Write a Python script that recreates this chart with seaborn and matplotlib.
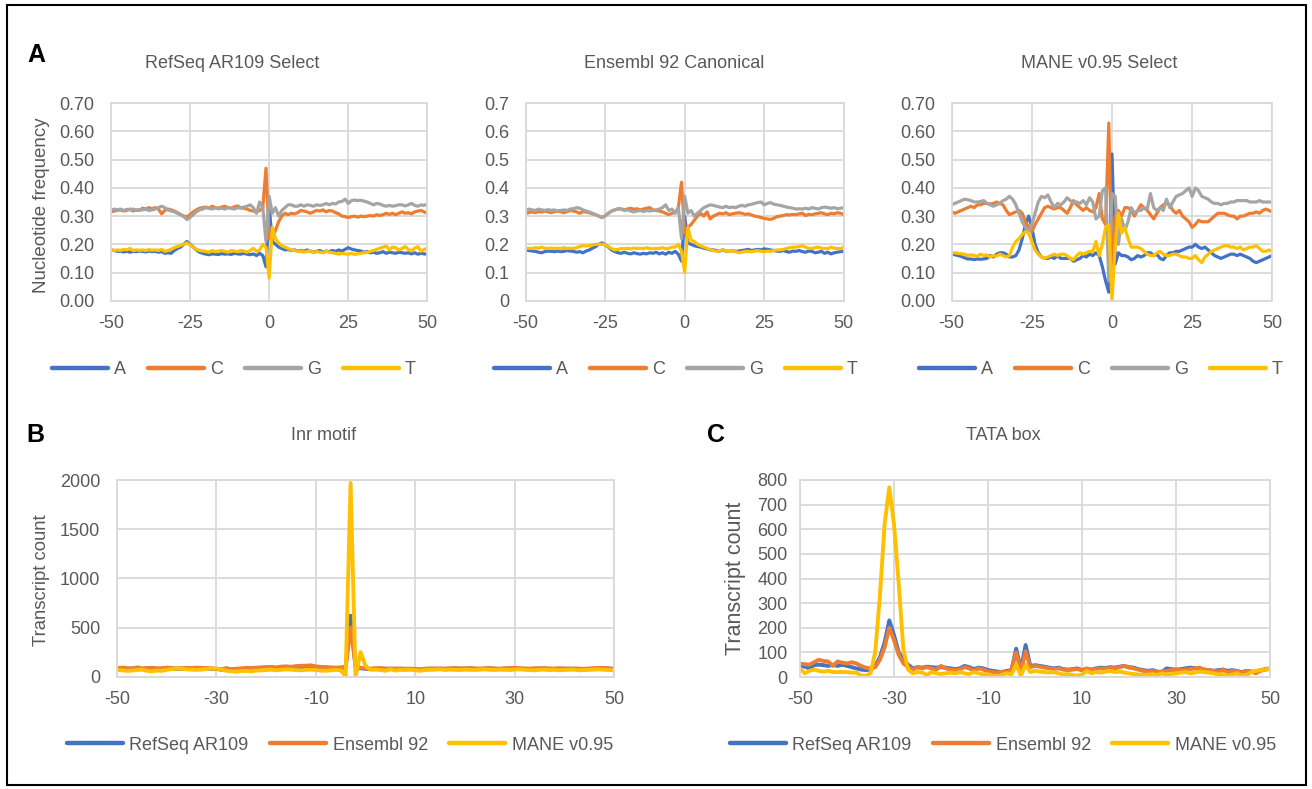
import numpy as np
import pandas as pd
import matplotlib
matplotlib.use("Agg")
import matplotlib.pyplot as plt
import seaborn as sns
from matplotlib.lines import Line2D
from matplotlib.patches import Rectangle

# ---------------- data ----------------
positions = list(range(-50, 51))
bases = ["A", "C", "G", "T"]
sources = ["RefSeq AR109", "Ensembl 92", "MANE v0.95"]
panel_titles = ["RefSeq AR109 Select", "Ensembl 92 Canonical", "MANE v0.95 Select"]

# RefSeq AR109 Select nucleotide frequency, positions -50..50
refseq_A = [.18, .178, .175, .175, .173, .175, .172, .175, .174, .176,
            .175, .173, .176, .174, .175, .172, .174, .168, .17, .168,
            .178, .185, .19, .2, .21, .2, .19, .18, .172, .168,
            .165, .163, .166, .165, .164, .167, .165, .166, .164, .168,
            .166, .165, .168, .165, .163, .166, .16, .168, .16, .12,
            .33, .21, .2, .19, .185, .18, .182, .178, .18, .176,
            .178, .175, .18, .176, .172, .175, .178, .172, .176, .174,
            .178, .175, .18, .176, .182, .188, .183, .18, .178, .176,
            .172, .175, .17, .172, .168, .17, .174, .168, .172, .17,
            .168, .172, .17, .168, .17, .166, .17, .165, .168, .166,
            .165]
refseq_C = [.315, .318, .32, .322, .318, .32, .325, .318, .322, .32,
            .328, .325, .33, .326, .33, .325, .308, .32, .325, .322,
            .318, .312, .305, .30, .298, .305, .315, .322, .328, .33,
            .332, .328, .335, .33, .328, .332, .335, .33, .328, .333,
            .336, .33, .328, .325, .32, .318, .315, .32, .33, .47,
            .22, .22, .25, .28, .30, .31, .305, .31, .308, .312,
            .32, .318, .315, .31, .315, .32, .318, .322, .315, .32,
            .318, .312, .308, .30, .298, .295, .298, .30, .296, .30,
            .298, .30, .302, .30, .305, .302, .305, .31, .306, .31,
            .305, .31, .315, .31, .312, .308, .315, .318, .32, .315,
            .31]
refseq_G = [.32, .325, .322, .325, .32, .324, .322, .325, .32, .323,
            .322, .325, .32, .322, .325, .33, .335, .33, .322, .318,
            .315, .31, .305, .298, .288, .295, .305, .315, .322, .325,
            .33, .328, .325, .33, .326, .328, .325, .33, .328, .325,
            .33, .328, .332, .335, .34, .33, .31, .35, .33, .21,
            .37, .31, .33, .30, .32, .33, .34, .34, .335, .335,
            .34, .335, .34, .338, .335, .34, .338, .34, .345, .34,
            .345, .343, .35, .352, .36, .345, .355, .357, .355, .356,
            .353, .35, .345, .34, .345, .343, .338, .335, .338, .335,
            .337, .34, .34, .336, .34, .345, .338, .335, .34, .338,
            .342]
refseq_T = [.18, .178, .18, .178, .182, .18, .185, .178, .18, .179,
            .18, .178, .181, .179, .18, .178, .182, .175, .178, .182,
            .188, .192, .196, .2, .205, .198, .19, .182, .178, .176,
            .175, .172, .178, .174, .176, .178, .175, .172, .178, .176,
            .174, .178, .176, .172, .178, .186, .175, .18, .2, .19,
            .08, .26, .22, .205, .195, .19, .185, .18, .178, .175,
            .176, .172, .175, .178, .17, .174, .172, .17, .175, .172,
            .17, .168, .165, .168, .166, .165, .168, .164, .166, .168,
            .17, .172, .175, .178, .182, .186, .19, .194, .18, .19,
            .188, .18, .185, .192, .182, .176, .186, .192, .175, .182,
            .185]

# Ensembl 92 Canonical
ensembl_A = [.18, .178, .176, .175, .172, .17, .174, .176, .175, .174,
             .176, .174, .175, .178, .176, .175, .172, .174, .17, .176,
             .18, .186, .192, .2, .205, .198, .19, .18, .174, .17,
             .168, .172, .168, .166, .17, .167, .165, .168, .166, .17,
             .168, .172, .166, .17, .165, .172, .168, .175, .165, .14,
             .30, .205, .2, .195, .192, .19, .186, .184, .18, .18,
             .178, .176, .18, .176, .175, .178, .175, .176, .178, .18,
             .182, .178, .18, .182, .18, .184, .182, .18, .178, .176,
             .175, .178, .174, .172, .176, .175, .178, .174, .172, .176,
             .175, .17, .172, .175, .168, .172, .166, .17, .172, .174,
             .175]
ensembl_C = [.31, .312, .315, .312, .316, .314, .318, .315, .312, .316,
             .318, .315, .312, .316, .32, .318, .315, .31, .316, .314,
             .312, .308, .305, .30, .295, .302, .31, .318, .322, .325,
             .326, .322, .325, .328, .324, .326, .322, .325, .328, .33,
             .322, .32, .318, .315, .31, .305, .31, .312, .33, .42,
             .24, .26, .27, .285, .30, .31, .30, .315, .29, .30,
             .305, .31, .308, .312, .305, .308, .31, .312, .31, .306,
             .308, .304, .30, .298, .295, .292, .29, .288, .292, .298,
             .30, .302, .305, .304, .306, .305, .308, .31, .302, .306,
             .305, .308, .31, .312, .308, .305, .31, .308, .312, .31,
             .305]
ensembl_G = [.32, .325, .322, .32, .325, .322, .32, .323, .32, .322,
             .318, .32, .322, .32, .325, .326, .33, .328, .322, .318,
             .315, .31, .305, .30, .295, .30, .31, .318, .322, .326,
             .325, .32, .322, .318, .315, .318, .32, .316, .32, .318,
             .32, .322, .325, .33, .34, .32, .325, .31, .33, .22,
             .37, .31, .32, .30, .31, .32, .33, .335, .34, .338,
             .335, .332, .33, .335, .33, .332, .33, .335, .338, .335,
             .34, .342, .345, .348, .35, .34, .345, .348, .342, .34,
             .338, .335, .332, .33, .328, .325, .326, .325, .328, .325,
             .33, .328, .325, .33, .332, .33, .328, .33, .326, .328,
             .33]
ensembl_T = [.185, .186, .185, .188, .186, .19, .186, .185, .187, .185,
             .186, .184, .188, .185, .186, .185, .188, .192, .195, .194,
             .195, .198, .2, .2, .2, .198, .192, .185, .18, .182,
             .185, .184, .186, .183, .187, .185, .186, .184, .188, .185,
             .184, .186, .185, .188, .184, .186, .19, .19, .2, .175,
             .10, .26, .215, .21, .20, .195, .19, .186, .18, .178,
             .175, .178, .18, .176, .175, .178, .174, .17, .172, .175,
             .175, .174, .176, .178, .175, .174, .176, .175, .178, .18,
             .18, .182, .185, .188, .19, .19, .192, .195, .19, .186,
             .185, .188, .19, .186, .185, .184, .19, .186, .185, .184,
             .19]

# MANE v0.95 Select
mane_A = [.165, .163, .16, .157, .152, .148, .148, .146, .148, .147,
          .148, .15, .16, .155, .165, .17, .17, .165, .155, .155,
          .16, .18, .22, .27, .30, .26, .20, .17, .155, .15,
          .15, .155, .15, .16, .15, .15, .15, .15, .14, .145,
          .15, .16, .155, .165, .16, .17, .16, .12, .07, .03,
          .52, .13, .17, .16, .16, .155, .145, .15, .16, .155,
          .16, .17, .17, .16, .165, .15, .145, .16, .17, .17,
          .175, .175, .18, .185, .19, .19, .20, .19, .185, .19,
          .18, .17, .16, .155, .15, .155, .16, .165, .165, .16,
          .165, .16, .155, .15, .14, .135, .14, .145, .15, .155,
          .16]
mane_C = [.315, .31, .315, .32, .325, .33, .335, .33, .34, .34,
          .345, .345, .343, .345, .35, .345, .34, .32, .305, .31,
          .315, .32, .31, .28, .26, .245, .27, .29, .31, .33,
          .335, .33, .325, .33, .33, .32, .31, .33, .355, .34,
          .33, .32, .33, .32, .315, .33, .38, .29, .27, .63,
          .10, .30, .32, .30, .33, .33, .32, .30, .32, .34,
          .33, .32, .305, .29, .31, .33, .34, .345, .34, .32,
          .31, .32, .30, .29, .28, .26, .27, .285, .28, .28,
          .28, .29, .30, .31, .31, .31, .305, .30, .30, .29,
          .30, .30, .305, .31, .31, .315, .31, .32, .325, .32,
          .315]
mane_G = [.34, .345, .35, .355, .36, .358, .355, .35, .35, .352,
          .355, .345, .34, .335, .34, .345, .355, .36, .37, .36,
          .34, .31, .28, .26, .24, .27, .31, .35, .37, .365,
          .375, .35, .33, .345, .34, .35, .365, .355, .345, .35,
          .345, .355, .34, .365, .35, .29, .30, .39, .40, .07,
          .38, .37, .20, .29, .25, .28, .33, .31, .32, .32,
          .33, .325, .38, .33, .32, .33, .32, .36, .33, .35,
          .37, .375, .38, .39, .40, .37, .40, .39, .37, .365,
          .36, .35, .345, .345, .34, .345, .345, .35, .35, .355,
          .355, .355, .355, .35, .35, .35, .355, .35, .35, .35,
          .35]
mane_T = [.17, .17, .168, .166, .165, .16, .163, .16, .158, .165,
          .16, .162, .155, .16, .158, .165, .16, .155, .16, .19,
          .21, .22, .235, .245, .24, .21, .18, .165, .155, .15,
          .155, .16, .165, .16, .165, .165, .16, .15, .145, .16,
          .17, .165, .17, .175, .175, .21, .16, .20, .26, .27,
          .0, .20, .31, .24, .26, .22, .19, .19, .19, .185,
          .175, .165, .16, .16, .17, .175, .165, .16, .16, .165,
          .165, .16, .155, .155, .15, .15, .16, .145, .135, .155,
          .165, .175, .18, .185, .19, .195, .195, .19, .19, .185,
          .19, .18, .185, .19, .19, .195, .185, .175, .175, .18,
          .175]

# Inr motif transcript counts
inr_refseq = [80, 82, 78, 85, 80, 78, 82, 84, 80, 83,
              90, 85, 82, 80, 84, 82, 86, 88, 85, 80,
              78, 72, 70, 75, 80, 78, 82, 80, 85, 88,
              86, 84, 82, 88, 90, 85, 88, 92, 95, 90,
              88, 85, 82, 80, 85, 90, 100, 620, 90, 85,
              80, 78, 82, 80, 78, 82, 80, 76, 80, 78,
              75, 70, 78, 80, 82, 78, 80, 82, 85, 80,
              82, 84, 80, 78, 82, 85, 80, 78, 82, 80,
              85, 82, 80, 78, 80, 82, 78, 76, 80, 78,
              80, 82, 78, 75, 80, 78, 82, 80, 85, 82,
              78]
inr_ensembl = [85, 92, 88, 80, 95, 85, 88, 90, 86, 84,
               92, 88, 85, 86, 90, 88, 92, 90, 88, 85,
               80, 75, 88, 72, 80, 85, 90, 88, 92, 95,
               98, 100, 95, 102, 105, 100, 108, 110, 112, 115,
               105, 100, 98, 95, 92, 95, 85, 500, 110, 90,
               85, 82, 86, 88, 84, 80, 82, 84, 80, 82,
               80, 76, 82, 84, 80, 86, 82, 84, 88, 85,
               86, 88, 84, 82, 86, 88, 84, 82, 85, 88,
               90, 86, 84, 82, 85, 86, 88, 84, 82, 86,
               84, 80, 85, 82, 78, 84, 86, 90, 88, 85,
               82]
inr_mane = [70, 65, 60, 62, 68, 72, 60, 55, 62, 60,
            70, 78, 85, 80, 75, 72, 70, 72, 80, 85,
            82, 75, 60, 55, 52, 58, 60, 55, 62, 65,
            68, 72, 65, 70, 75, 72, 68, 65, 70, 72,
            68, 62, 60, 65, 70, 65, 5, 1970, 0, 250,
            110, 70, 72, 68, 60, 75, 62, 70, 68, 72,
            65, 60, 68, 70, 72, 75, 68, 72, 70, 68,
            72, 70, 68, 72, 75, 70, 68, 72, 70, 68,
            72, 75, 70, 68, 65, 70, 72, 68, 70, 65,
            68, 70, 72, 65, 68, 70, 72, 75, 70, 68,
            65]

# TATA box transcript counts
tata_refseq = [45, 42, 35, 48, 50, 48, 45, 50, 45, 50,
               45, 40, 35, 30, 28, 30, 45, 80, 140, 230,
               170, 100, 70, 50, 35, 40, 38, 42, 40, 38,
               40, 38, 35, 32, 35, 45, 40, 32, 38, 35,
               28, 25, 22, 20, 25, 28, 115, 30, 130, 45,
               48, 45, 42, 38, 35, 38, 32, 30, 32, 35,
               28, 32, 30, 35, 38, 36, 40, 38, 42, 45,
               40, 38, 32, 28, 25, 28, 22, 20, 35, 32,
               30, 32, 35, 38, 36, 32, 30, 28, 25, 28,
               30, 25, 28, 24, 20, 25, 22, 20, 28, 32,
               35]
tata_ensembl = [54, 52, 50, 60, 70, 65, 63, 45, 63, 58,
                55, 60, 55, 45, 38, 35, 40, 70, 120, 200,
                150, 90, 55, 40, 30, 40, 35, 40, 35, 30,
                45, 35, 30, 28, 30, 40, 35, 25, 35, 30,
                22, 20, 18, 22, 20, 30, 100, 20, 105, 40,
                45, 42, 38, 35, 32, 35, 30, 28, 30, 32,
                28, 35, 30, 32, 35, 33, 38, 35, 40, 45,
                38, 35, 30, 25, 22, 25, 20, 22, 25, 28,
                30, 28, 30, 32, 35, 38, 30, 28, 25, 22,
                30, 20, 25, 22, 18, 25, 22, 15, 25, 30,
                32]
tata_mane = [35, 15, 25, 30, 25, 22, 25, 20, 20, 20,
             20, 18, 18, 5, 5, 15, 100, 330, 620, 770,
             620, 380, 110, 30, 15, 20, 18, 8, 20, 15,
             12, 15, 18, 15, 20, 15, 12, 20, 15, 10,
             12, 5, 0, 10, 15, 10, 50, 5, 50, 20,
             25, 22, 20, 18, 20, 15, 10, 12, 8, 5,
             10, 25, 15, 20, 18, 22, 25, 20, 22, 18,
             15, 12, 10, 8, 10, 12, 8, 15, 10, 12,
             15, 18, 20, 15, 18, 22, 20, 18, 15, 10,
             12, 5, 10, 15, 5, 8, 20, 25, 28, 30,
             35]

base_colors = {"A": "#4472C4", "C": "#ED7D31", "G": "#A5A5A5", "T": "#FFC000"}
source_colors = {"RefSeq AR109": "#4472C4", "Ensembl 92": "#ED7D31", "MANE v0.95": "#FFC000"}

FIG_W, FIG_H = 1312, 789
TEXT = "#595959"
GRID = "#D9D9D9"
FS = 13


def box(x0, y0, x1, y1):
    # pixel box with top-left origin -> figure fraction rect
    return [x0 / FIG_W, 1 - y1 / FIG_H, (x1 - x0) / FIG_W, (y1 - y0) / FIG_H]


def fx(x):
    return x / FIG_W


def fy(y):
    return 1 - y / FIG_H


def long_frame(groups, names, key):
    rows = []
    for name, vals in zip(names, groups):
        for p, v in zip(positions, vals):
            rows.append({"pos": p, "value": v, key: name})
    return pd.DataFrame(rows)


def style_axis(ax, ylim, yticks, yfmt, xticks, ypad=12):
    ax.set_xlim(-50, 50)
    ax.set_ylim(*ylim)
    ax.set_xticks(xticks)
    ax.set_yticks(yticks)
    ax.set_yticklabels([yfmt(t) for t in yticks])
    ax.set_xticklabels([str(t) for t in xticks])
    ax.grid(True, color=GRID, linewidth=1.3)
    ax.set_axisbelow(True)
    for s in ax.spines.values():
        s.set_color(GRID)
        s.set_linewidth(1.3)
    ax.tick_params(axis="both", length=0, labelsize=FS, colors=TEXT)
    ax.tick_params(axis="y", pad=ypad)
    ax.tick_params(axis="x", pad=10)
    ax.set_xlabel("")
    ax.set_ylabel("")


def add_legend(fig, names, colors, cx, cy):
    handles = [Line2D([], [], color=colors[n], lw=3.2, solid_capstyle="round") for n in names]
    leg = fig.legend(handles, names, loc="center", bbox_to_anchor=(fx(cx), fy(cy)),
                     ncol=len(names), frameon=False, fontsize=FS, handlelength=3.1,
                     handletextpad=0.35, columnspacing=1.2, labelcolor=TEXT)
    return leg


sns.set_style("white")
plt.rcParams["font.family"] = ["Liberation Sans", "DejaVu Sans"]

fig = plt.figure(figsize=(FIG_W / 100, FIG_H / 100), dpi=100)

# ---- panel A ----
nuc_sets = [
    [refseq_A, refseq_C, refseq_G, refseq_T],
    [ensembl_A, ensembl_C, ensembl_G, ensembl_T],
    [mane_A, mane_C, mane_G, mane_T],
]
a_boxes = [(111, 103.3, 427.3, 300.7), (525.7, 103.3, 843.7, 300.7), (951.7, 103.3, 1272.3, 300.7)]
a_centers = [232, 674, 1099]
a_fmts = [lambda v: f"{v:.2f}", lambda v: f"{v:g}", lambda v: f"{v:.2f}"]
a_ticks = [0, 0.1, 0.2, 0.3, 0.4, 0.5, 0.6, 0.7]

for vals, bx, cx, fmt, title in zip(nuc_sets, a_boxes, a_centers, a_fmts, panel_titles):
    ax = fig.add_axes(box(*bx))
    df = long_frame(vals, bases, "base")
    sns.lineplot(data=df, x="pos", y="value", hue="base", palette=base_colors,
                 estimator=None, sort=False, legend=False, linewidth=2.3, ax=ax,
                 solid_joinstyle="round", solid_capstyle="round")
    style_axis(ax, (0, 0.7), a_ticks, fmt, [-50, -25, 0, 25, 50])
    fig.text(fx(cx), fy(63), title, ha="center", va="center", fontsize=FS, color=TEXT)
    add_legend(fig, bases, base_colors, cx + 2, 370)

fig.text(fx(42), fy(205), "Nucleotide frequency", rotation=90, ha="center", va="center",
         fontsize=13.5, color=TEXT)

# ---- panel B: Inr motif ----
axb = fig.add_axes(box(117, 480, 614, 676.7))
dfb = long_frame([inr_refseq, inr_ensembl, inr_mane], sources, "source")
sns.lineplot(data=dfb, x="pos", y="value", hue="source", palette=source_colors,
             estimator=None, sort=False, legend=False, linewidth=2.8, ax=axb,
             solid_joinstyle="round", solid_capstyle="round")
style_axis(axb, (0, 2000), [0, 500, 1000, 1500, 2000], lambda v: f"{v:g}",
           [-50, -30, -10, 10, 30, 50])
fig.text(fx(324), fy(435), "Inr motif", ha="center", va="center", fontsize=FS, color=TEXT)
fig.text(fx(42), fy(580), "Transcript count", rotation=90, ha="center", va="center",
         fontsize=13.3, color=TEXT)
add_legend(fig, sources, source_colors, 340, 745)

# ---- panel C: TATA box ----
axc = fig.add_axes(box(800, 480, 1270, 677))
dfc = long_frame([tata_refseq, tata_ensembl, tata_mane], sources, "source")
sns.lineplot(data=dfc, x="pos", y="value", hue="source", palette=source_colors,
             estimator=None, sort=False, legend=False, linewidth=2.8, ax=axc,
             solid_joinstyle="round", solid_capstyle="round")
style_axis(axc, (0, 800), list(range(0, 801, 100)), lambda v: f"{v:g}",
           [-50, -30, -10, 10, 30, 50], ypad=9)
fig.text(fx(1003), fy(435), "TATA box", ha="center", va="center", fontsize=FS, color=TEXT)
fig.text(fx(735), fy(578), "Transcript count", rotation=90, ha="center", va="center",
         fontsize=15.5, color=TEXT)
add_legend(fig, sources, source_colors, 1003, 745)

# panel letters
for letter, x, y in [("A", 36, 55), ("B", 35, 435), ("C", 716, 435)]:
    fig.text(fx(x), fy(y), letter, ha="center", va="center", fontsize=18,
             fontweight="bold", color="black")

# outer frame
fig.patches.append(Rectangle((fx(7), fy(785)), fx(1306) - fx(7), fy(5) - fy(785),
                             transform=fig.transFigure, fill=False, edgecolor="black",
                             linewidth=1.5))

fig.savefig("out.png", dpi=100)
